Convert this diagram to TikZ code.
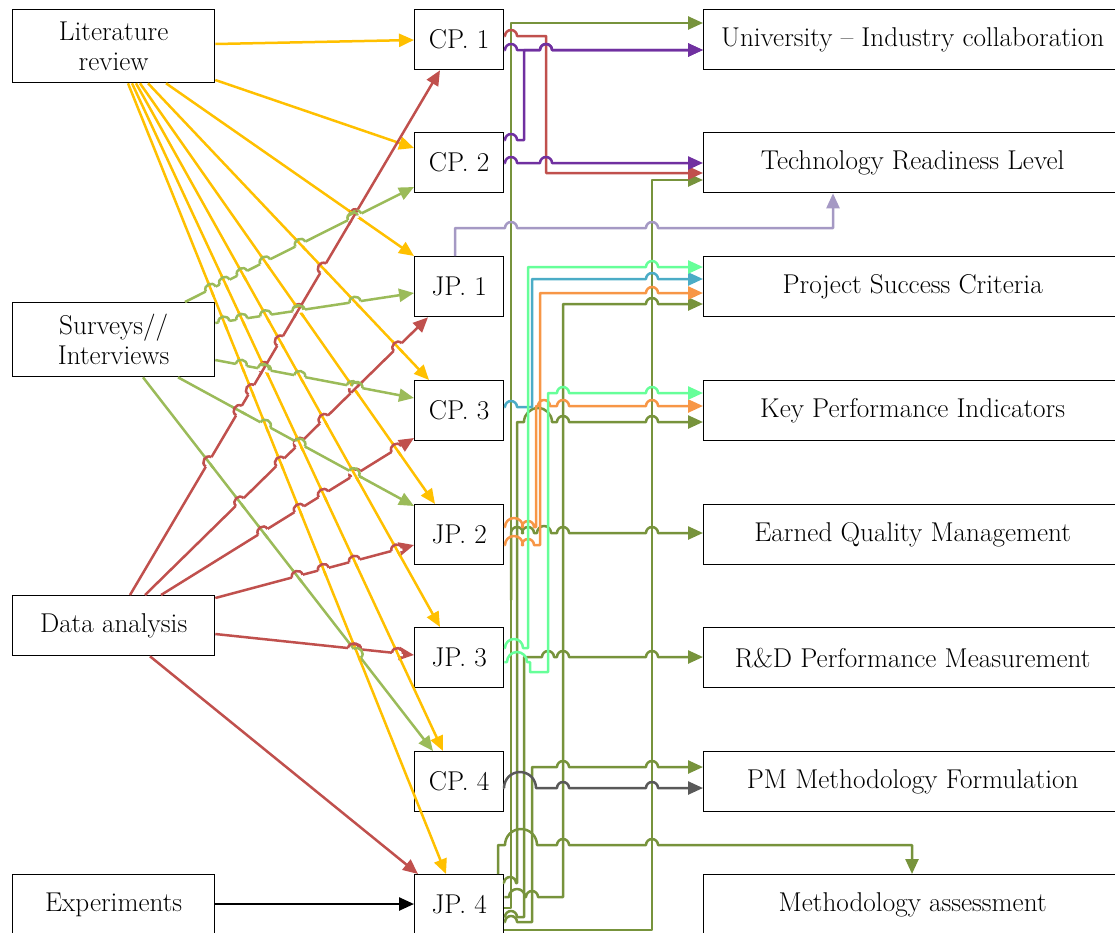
\documentclass[tikz,border=0pt]{standalone}
\usepackage{fontspec}
\usetikzlibrary{arrows.meta,calc,intersections}
\definecolor{litc}{HTML}{FFC000}
\definecolor{surc}{HTML}{9BBB59}
\definecolor{datc}{HTML}{C0504D}
\definecolor{oliv}{HTML}{77933C}
\definecolor{purp}{HTML}{7030A0}
\definecolor{lavc}{HTML}{A599C4}
\definecolor{mint}{HTML}{66FF99}
\definecolor{tealc}{HTML}{4BACC6}
\definecolor{oran}{HTML}{F79646}
\definecolor{greyc}{HTML}{595959}
% small line jump over a vertical line at x=#1 on a horizontal run at y=#2
\newcommand\jx[2]{-- (#1-6,#2) arc[start angle=180,end angle=0,radius=6pt]}
% wide line jump centred at x=#1 with radius #2 on a run at y=#3
\newcommand\jb[3]{-- (#1-#2,#3) arc[start angle=180,end angle=0,radius=#2pt]}
% straight connector #1 in colour #2 from #3 to #4, remembered for line jumps
\newcommand\lnk[4]{%
  \coordinate (#1-s) at (#3);
  \coordinate (#1-e) at (#4);
  \draw[link,#2,name path global=#1] (#1-s) -- (#1-e);}
% connector #1 (colour #3) hops over connector #2 (colour #4) where they cross
\newcommand\hop[4]{%
  \path[name intersections={of=#1 and #2,name=ix,total=\ntot}] \pgfextra{\xdef\nhop{\ntot}};
  \ifnum\nhop>0
  \foreach \k in {1,...,\nhop}{
    \draw[white,line width=5pt] ($(ix-\k)!5.5pt!(#1-s)$) -- ($(ix-\k)!5.5pt!(#1-e)$);
    \draw[#4,line width=2.5pt] ($(ix-\k)!8pt!(#2-s)$) -- ($(ix-\k)!8pt!(#2-e)$);
    \draw[#3,line width=2.5pt] ($(ix-\k)!5.5pt!(#1-s)$) to[bend left=90,looseness=1.6] ($(ix-\k)!5.5pt!(#1-e)$);
  }\fi}
\begin{document}
\begin{tikzpicture}[x=1pt,y=-1pt,
  box/.style={draw=black,line width=1.3pt,fill=white,anchor=north west,
    inner sep=0pt,align=center,font=\fontsize{27.2}{30}\selectfont},
  lbox/.style={box,minimum width=202pt},
  mbox/.style={box,minimum width=89pt,minimum height=60pt},
  rbox/.style={box,minimum width=418pt,minimum height=60pt},
  link/.style={line width=2.5pt,line join=round,-{Triangle[length=15pt,width=13pt]}}]
\useasboundingbox (0,0) rectangle (1115,932);

% left column
\node[lbox,minimum height=73pt] (lr) at (12,9) {Literature\\review};
\node[lbox,minimum height=74pt] (si) at (12,302) {Surveys//\\Interviews};
\node[lbox,minimum height=60pt] (da) at (12,595) {Data analysis};
\node[lbox,minimum height=60pt] (ex) at (12,874) {Experiments};

% middle column
\node[mbox] (cp1) at (414,9)   {CP. 1};
\node[mbox] (cp2) at (414,132) {CP. 2};
\node[mbox] (jp1) at (414,256) {JP. 1};
\node[mbox] (cp3) at (414,380) {CP. 3};
\node[mbox] (jp2) at (414,504) {JP. 2};
\node[mbox] (jp3) at (414,627) {JP. 3};
\node[mbox] (cp4) at (414,751) {CP. 4};
\node[mbox] (jp4) at (414,874) {JP. 4};

% right column
\node[rbox] (uic) at (703,9)   {University -- Industry collaboration};
\node[rbox] (trl) at (703,132) {Technology Readiness Level};
\node[rbox] (psc) at (703,256) {Project Success Criteria};
\node[rbox] (kpi) at (703,380) {Key Performance Indicators};
\node[rbox] (eqm) at (703,504) {Earned Quality Management};
\node[rbox] (rdm) at (703,627) {R\&D Performance Measurement};
\node[rbox] (pmf) at (703,751) {PM Methodology Formulation};
\node[rbox] (mas) at (703,874) {Methodology assessment};

% literature review
\lnk{ya}{litc}{lr.east |- 0,44}{cp1.west |- 0,40}
\lnk{yb}{litc}{lr.east |- 0,80}{cp2.west |- 0,148}
\lnk{yc}{litc}{lr.south -| 166,0}{jp1.north west}
\lnk{yd}{litc}{lr.south -| 148,0}{cp3.north -| 429,0}
\lnk{ye}{litc}{lr.south -| 140,0}{jp2.north -| 435,0}
\lnk{yf}{litc}{lr.south -| 136,0}{jp3.north -| 440,0}
\lnk{yg}{litc}{lr.south -| 132,0}{cp4.north -| 443,0}
\lnk{yh}{litc}{lr.south -| 128,0}{jp4.north -| 446,0}

% surveys / interviews
\lnk{ga}{surc}{si.north -| 185,0}{cp2.west |- 0,187}
\lnk{gb}{surc}{si.east |- 0,323}{jp1.west |- 0,293}
\lnk{gc}{surc}{si.east |- 0,360}{cp3.west |- 0,398}
\lnk{gd}{surc}{si.south -| 178,0}{jp2.west |- 0,506}
\lnk{ge}{surc}{si.south -| 143,0}{cp4.north -| 433,0}

% data analysis
\lnk{ra}{datc}{da.north -| 130,0}{cp1.south -| 440,0}
\lnk{rb}{datc}{da.north -| 145,0}{jp1.south -| 428,0}
\lnk{rc}{datc}{da.north -| 161,0}{cp3.west |- 0,438}
\lnk{rd}{datc}{da.east |- 0,598}{jp2.west |- 0,545}
\lnk{re}{datc}{da.east |- 0,634}{jp3.west |- 0,655}
\lnk{rf}{datc}{da.south -| 150,0}{jp4.north -| 418,0}

% line jumps where the straight connectors cross
\foreach \r in {ra,rb,rc,rd,re,rf}{
  \foreach \y in {yc,yd,ye,yf,yg,yh}{\hop{\r}{\y}{datc}{litc}}
  \foreach \g in {gd,ge}{\hop{\r}{\g}{datc}{surc}}
}
\foreach \g in {gd,ge}{
  \foreach \y in {yc,yd,ye,yf,yg,yh}{\hop{\g}{\y}{surc}{litc}}
}
\foreach \g in {ga,gb,gc}{
  \foreach \y in {yc,yd,ye,yf,yg,yh}{\hop{\g}{\y}{surc}{litc}}
  \foreach \r in {ra,rb,rc,rd,re,rf}{\hop{\g}{\r}{surc}{datc}}
}

% experiments
\draw[link,black] (ex.east |- 0,904) -- (jp4.west |- 0,904);

% olive trunks from JP. 4
\begin{scope}[oliv]
\draw[link] (jp4.east |- 0,908) -- (511,908) -- (511,23) -- (uic.west |- 0,23);
\draw[link] (jp4.east |- 0,930) -- (652,930) -- (652,180) -- (trl.west |- 0,180);
\draw[link] (jp4.east |- 0,897) \jb{517}{8}{897} \jx{532}{897} -- (563,897) -- (563,304) \jx{652}{304} -- (psc.west |- 0,304);
\draw[link] (jp4.east |- 0,883) \jb{510}{6}{883} -- (517,883) -- (517,422) \jb{538}{14}{422} \jx{563}{422} \jx{652}{422} -- (kpi.west |- 0,422);
\draw[link] (511,600) -- (511,533) \jx{517}{533} \jx{528}{533} \jb{544}{7}{533} \jx{563}{533} \jx{652}{533} -- (eqm.west |- 0,533);
\draw[link] (jp4.east |- 0,917) \jx{511}{917} -- (524,917) -- (524,657) \jx{548}{657} \jx{563}{657} \jx{652}{657} -- (rdm.west |- 0,657);
\draw[link] (jp4.east |- 0,922) \jx{511}{922} -- (532,922) -- (532,767) \jx{563}{767} \jx{652}{767} -- (pmf.west |- 0,767);
\draw[link] (jp4.north -| 498,0) -- (498,845) \jb{521}{16}{845} \jx{563}{845} \jx{652}{845} -- (912,845) -- (mas.north -| 912,0);
\end{scope}

% CP. 1 and CP. 2
\draw[link,datc] (cp1.east |- 0,36) \jx{511}{36} -- (546,36) -- (546,173) -- (trl.west |- 0,173);
\draw[link,purp] (cp1.east |- 0,50) \jx{511}{50} \jx{546}{50} -- (uic.west |- 0,50);
\draw[link,purp] (cp2.east |- 0,140) \jx{511}{140} -- (524,140) -- (524,50) \jx{546}{50} -- (uic.west |- 0,50);
\draw[link,purp] (cp2.east |- 0,163) \jx{511}{163} \jx{546}{163} -- (trl.west |- 0,163);

% JP. 1
\draw[link,lavc] (jp1.north -| 455,0) -- (455,228) \jx{511}{228} \jx{652}{228} -- (833,228) -- (trl.south -| 833,0);

% CP. 3
\draw[link,tealc] (cp3.east |- 0,407) \jx{511}{407} -- (532,407) -- (532,279) \jx{652}{279} -- (psc.west |- 0,279);

% JP. 2
\draw[link,oran] (jp2.east |- 0,545) \jb{514}{9}{545} \jx{528}{545} -- (540,545) -- (540,293) \jx{652}{293} -- (psc.west |- 0,293);
\draw[link,oran] (jp2.east |- 0,527) \jb{514}{9}{527} \jx{528}{527} -- (536,527) -- (536,406) \jb{544}{6}{406} \jx{563}{406} \jx{652}{406} -- (kpi.west |- 0,406);

% JP. 3
\draw[link,mint] (jp3.east |- 0,648) \jb{514}{9}{648} -- (528,648) -- (528,267) \jx{652}{267} -- (psc.west |- 0,267);
\draw[link,mint] (jp3.east |- 0,662) \jb{517}{10}{662} -- (530,662) -- (530,672) -- (548,672) -- (548,393) \jx{563}{393} \jx{652}{393} -- (kpi.west |- 0,393);

% CP. 4
\draw[link,greyc] (cp4.east |- 0,788) \jb{520}{16}{788} \jx{563}{788} \jx{652}{788} -- (pmf.west |- 0,788);
\end{tikzpicture}
\end{document}
